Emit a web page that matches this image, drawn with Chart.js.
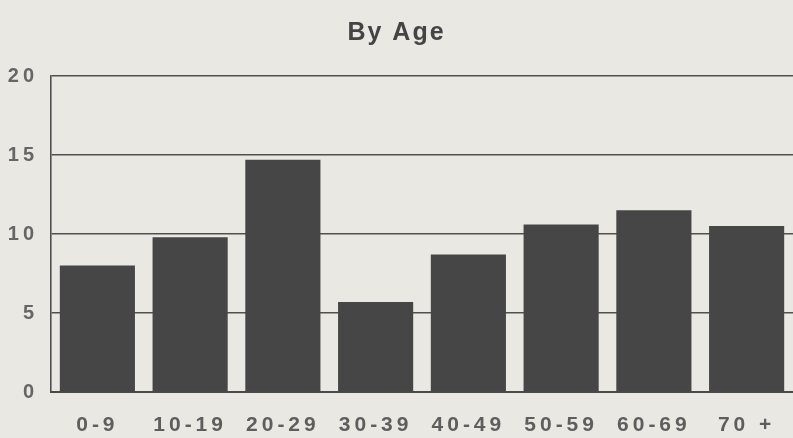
<html><head>
<title>By Age</title>
<style>
  body {
    margin: 0;
    padding: 0;
    background-color: #e9e8e3;
  }
  .wrap {
    position: relative;
    width: 793px;
    height: 438px;
  }
</style>
<script src="https://cdn.jsdelivr.net/npm/chart.js"></script>
</head>
<body>
  <div class="wrap">
    <canvas id="ageChart" width="793" height="438"></canvas>
  </div>

  <script>
    // Values
    const ageGroups = ['0-9', '10-19', '20-29', '30-39', '40-49', '50-59', '60-69', '70 +'];
    const counts = [8.0, 9.8, 14.7, 5.7, 8.7, 10.6, 11.5, 10.5];
    const yTicks = [0, 5, 10, 15, 20];

    // the old typewriter-style labels are widely tracked; title a bit less
    const spacedText = {
      id: 'spacedText',
      beforeDraw(chart) {
        chart.ctx.letterSpacing = '2px';
        Object.values(chart.scales).forEach(s => {
          if (s._spaced) return;
          const orig = s.drawLabels;
          s.drawLabels = function (area) {
            const prev = this.ctx.letterSpacing;
            this.ctx.letterSpacing = '4px';
            orig.call(this, area);
            this.ctx.letterSpacing = prev;
          };
          s._spaced = true;
        });
      },
      afterDraw(chart) { chart.ctx.letterSpacing = '0px'; }
    };

    new Chart(document.getElementById('ageChart'), {
      type: 'bar',
      data: {
        labels: ageGroups,
        datasets: [{
          data: counts,
          backgroundColor: '#464646',
          borderWidth: 0,
          categoryPercentage: 1,
          barPercentage: 0.81
        }]
      },
      plugins: [spacedText],
      options: {
        responsive: false,
        animation: false,
        layout: { padding: { left: 0, right: 0, top: 0, bottom: 0 } },
        plugins: {
          legend: { display: false },
          tooltip: { enabled: false },
          title: {
            display: true,
            text: 'By Age',
            color: '#444444',
            font: { family: 'Liberation Sans', size: 25, weight: 'bold' },
            padding: { top: 18, bottom: 28 }
          }
        },
        scales: {
          x: {
            afterFit: axis => { axis.height = 46; },
            grid: { display: false, drawTicks: false },
            border: { color: '#4a4a4a', width: 2 },
            ticks: {
              color: '#5e5e5e',
              padding: 21,
              font: { family: 'Liberation Sans', size: 21, weight: 'bold' }
            }
          },
          y: {
            min: 0,
            max: 20,
            afterBuildTicks: axis => { axis.ticks = yTicks.map(v => ({ value: v })); },
            afterFit: axis => { axis.width = 51; },
            grid: { color: '#505050', lineWidth: 1.6, drawTicks: false },
            border: { color: '#505050', width: 1.6 },
            ticks: {
              color: '#666666',
              padding: 13,
              font: { family: 'Liberation Sans', size: 20, weight: 'bold' }
            }
          }
        }
      }
    });
  </script>
</body></html>
